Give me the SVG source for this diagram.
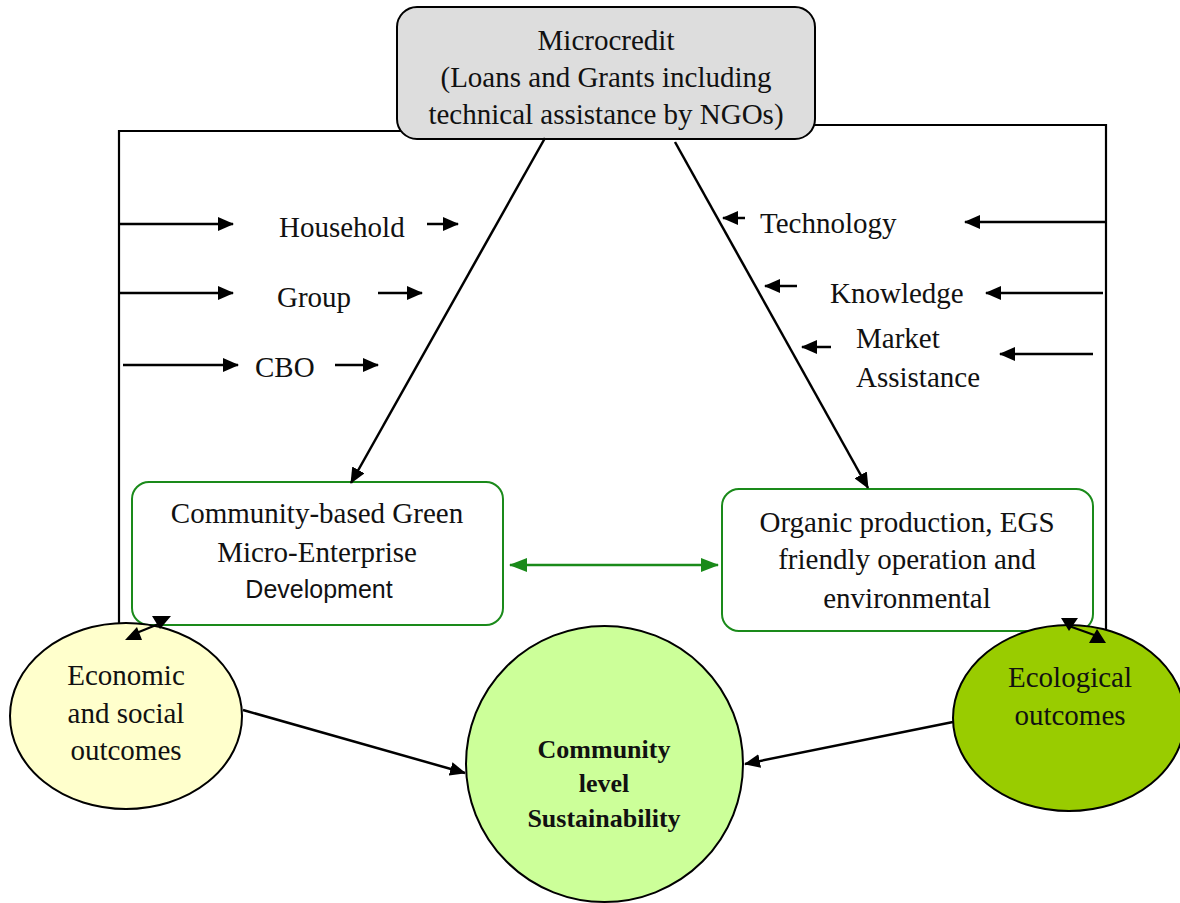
<svg xmlns="http://www.w3.org/2000/svg" width="1180" height="903" viewBox="0 0 1180 903">
<style>
.t{font-family:"Liberation Serif","Times New Roman",serif;font-size:29px;fill:#111;}
.c{text-anchor:middle;}
.s{font-family:"Liberation Sans",Arial,sans-serif;font-size:25px;fill:#111;}
.b{font-family:"Liberation Serif","Times New Roman",serif;font-size:26px;font-weight:bold;fill:#111;text-anchor:middle;}
.ln{stroke:#000;stroke-width:2.2;fill:none;}
.ar{stroke:#000;stroke-width:2.5;fill:none;marker-end:url(#ah);}
.gb{fill:#fff;stroke:#1a8a1a;stroke-width:2;}
.nd{stroke:#000;stroke-width:2;}
</style>
<defs>
<marker id="ah" viewBox="0 0 16 14" refX="15" refY="7" markerWidth="16" markerHeight="14" markerUnits="userSpaceOnUse" orient="auto-start-reverse"><path d="M0,0 L16,7 L0,14 z" fill="#000"/></marker>
<marker id="gh" viewBox="0 0 18 14" refX="17" refY="7" markerWidth="18" markerHeight="14" markerUnits="userSpaceOnUse" orient="auto-start-reverse"><path d="M0,0 L18,7 L0,14 z" fill="#1a8a1a"/></marker>
</defs>
<rect width="1180" height="903" fill="#fff"/>
<g id="frame">
<polyline class="ln" points="401,131 119,131 119,623"/>
<polyline class="ln" points="808,125 1106,125 1106,638"/>
</g>
<g id="microcredit">
<rect x="397" y="7" width="418" height="132" rx="20" ry="20" fill="#dddddd" class="nd"/>
<text class="t c" x="606" y="50">Microcredit</text>
<text class="t c" x="606" y="87">(Loans and Grants including</text>
<text class="t c" x="606" y="124">technical assistance by NGOs)</text>
</g>
<g id="green-enterprise">
<rect x="132" y="482" width="371" height="143" rx="17" ry="17" class="gb"/>
<text class="t c" x="317" y="523">Community-based Green</text>
<text class="t c" x="317" y="562">Micro-Enterprise</text>
<text class="s c" x="319" y="598">Development</text>
</g>
<g id="organic">
<rect x="722" y="489" width="371" height="142" rx="17" ry="17" class="gb"/>
<text class="t c" x="907" y="532">Organic production, EGS</text>
<text class="t c" x="907" y="569">friendly operation and</text>
<text class="t c" x="907" y="608">environmental</text>
</g>
<g id="economic">
<ellipse cx="126" cy="716" rx="116" ry="93" fill="#ffffcc" class="nd"/>
<text class="t c" x="126" y="685">Economic</text>
<text class="t c" x="126" y="723">and social</text>
<text class="t c" x="126" y="760">outcomes</text>
</g>
<g id="community">
<ellipse cx="604.5" cy="764" rx="138.5" ry="138" fill="#ccff99" class="nd"/>
<text class="b" x="604" y="758">Community</text>
<text class="b" x="604" y="792">level</text>
<text class="b" x="604" y="827">Sustainability</text>
</g>
<g id="ecological">
<ellipse cx="1069" cy="718" rx="116" ry="93" fill="#99cc00" class="nd"/>
<text class="t c" x="1070" y="687">Ecological</text>
<text class="t c" x="1070" y="725">outcomes</text>
</g>
<g id="labels">
<text class="t" x="279" y="237">Household</text>
<text class="t" x="277" y="307">Group</text>
<text class="t" x="255" y="377">CBO</text>
<text class="t" x="760" y="233">Technology</text>
<text class="t" x="830" y="303">Knowledge</text>
<text class="t" x="856" y="348">Market</text>
<text class="t" x="856" y="387">Assistance</text>
</g>
<g id="connectors">
<line class="ar" x1="118" y1="224" x2="233" y2="224"/>
<line class="ar" x1="427" y1="224" x2="458" y2="224"/>
<line class="ar" x1="118" y1="293" x2="233" y2="293"/>
<line class="ar" x1="378" y1="293" x2="422" y2="293"/>
<line class="ar" x1="123" y1="365" x2="238" y2="365"/>
<line class="ar" x1="335" y1="365" x2="378" y2="365"/>
<line class="ar" x1="745" y1="218" x2="723" y2="218"/>
<line class="ar" x1="1106" y1="222" x2="965" y2="222"/>
<line class="ar" x1="797" y1="286" x2="765" y2="286"/>
<line class="ar" x1="1103" y1="293" x2="986" y2="293"/>
<line class="ar" x1="831" y1="347" x2="802" y2="347"/>
<line class="ar" x1="1093" y1="354" x2="1000" y2="354"/>
<line class="ar" x1="545" y1="138" x2="351" y2="483"/>
<line class="ar" x1="675" y1="142" x2="868" y2="488"/>
<line x1="510" y1="565" x2="718" y2="565" stroke="#1a8a1a" stroke-width="2.5" marker-start="url(#gh)" marker-end="url(#gh)"/>
<line class="ar" x1="243" y1="710" x2="465" y2="773"/>
<line class="ar" x1="953" y1="722" x2="745" y2="764"/>
<line class="ln" x1="134" y1="634" x2="161" y2="623"/>
<polygon points="125,640 142,640 137,627" fill="#000"/>
<polygon points="152,616 171,616 160,629" fill="#000"/>
<line class="ln" x1="1069" y1="626" x2="1097" y2="636"/>
<polygon points="1061,618 1078,618 1069,631" fill="#000"/>
<polygon points="1089,643 1106,643 1097,629" fill="#000"/>
</g>
</svg>
